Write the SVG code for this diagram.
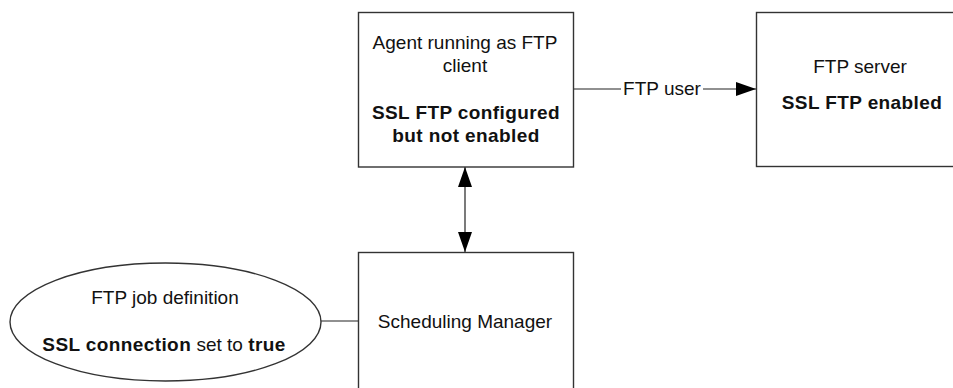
<svg xmlns="http://www.w3.org/2000/svg" width="953" height="388" viewBox="0 0 953 388">
  <defs>
    <style>
      .box { fill: #fff; stroke: #333; stroke-width: 1.4; }
      .link { fill: none; stroke: #222; stroke-width: 1.2; }
      .t { font-family: "Liberation Sans", Arial, sans-serif; font-size: 19px; fill: #111; text-anchor: middle; }
      .b { font-weight: bold; letter-spacing: 0.4px; }
    </style>
    <marker id="arrow" markerUnits="userSpaceOnUse" markerWidth="20" markerHeight="14" refX="20" refY="7" orient="auto-start-reverse">
      <path d="M0,0 L20,7 L0,14 Z" fill="#000"/>
    </marker>
  </defs>

  <rect width="953" height="388" fill="#fff"/>

  <!-- connectors -->
  <g id="connectors">
    <line class="link" x1="573" y1="89" x2="621" y2="89"/>
    <line class="link" x1="703" y1="89" x2="756" y2="89" marker-end="url(#arrow)"/>
    <line class="link" x1="465" y1="167" x2="465" y2="252" marker-start="url(#arrow)" marker-end="url(#arrow)"/>
    <line class="link" x1="321" y1="321" x2="358" y2="321"/>
    <text class="t" x="662" y="95">FTP user</text>
  </g>

  <!-- agent acting as FTP client -->
  <g id="agent">
    <rect class="box" x="358.5" y="12.5" width="215" height="154.5"/>
    <text class="t" x="465" y="49">Agent running as FTP</text>
    <text class="t" x="465" y="72">client</text>
    <text class="t b" x="466" y="119">SSL FTP configured</text>
    <text class="t b" x="466" y="142">but not enabled</text>
  </g>

  <!-- FTP server -->
  <g id="ftp-server">
    <rect class="box" x="756.5" y="12.5" width="210" height="154"/>
    <text class="t" x="860" y="73">FTP server</text>
    <text class="t b" x="862" y="109">SSL FTP enabled</text>
  </g>

  <!-- scheduling manager -->
  <g id="scheduling-manager">
    <rect class="box" x="358.5" y="252.5" width="215" height="150"/>
    <text class="t" x="465" y="328">Scheduling Manager</text>
  </g>

  <!-- job definition -->
  <g id="job-definition">
    <ellipse class="box" cx="165.5" cy="322" rx="155.5" ry="59"/>
    <text class="t" x="165" y="304">FTP job definition</text>
    <text class="t" x="164" y="351"><tspan class="b">SSL connection</tspan> set to <tspan class="b">true</tspan></text>
  </g>
</svg>
